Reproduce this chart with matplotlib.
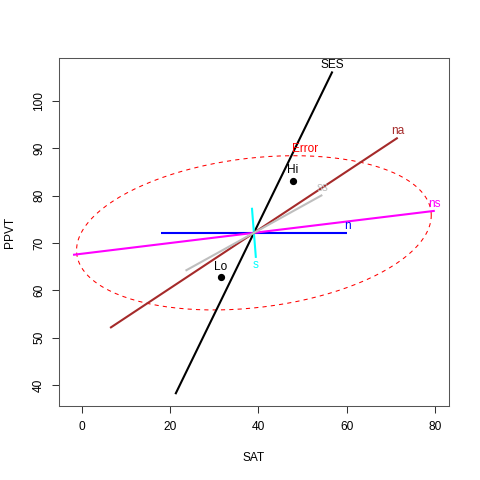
import numpy as np
import matplotlib
matplotlib.use("Agg")
import matplotlib.pyplot as plt

plt.rcParams['font.family'] = ['Liberation Sans', 'DejaVu Sans']

# grand mean (centre of all ellipses)
center = [38.98, 72.15]

# hypothesis terms (rank 1 -> lines), half-length vectors from centre
terms = ['SES', 'n', 's', 'ns', 'na', 'ss']
term_dx = [17.8, 21.1, 0.45, 41.0, 32.6, 15.5]
term_dy = [34.1, 0.0, -5.3, 4.65, 20.1, 8.0]
term_colors = ['black', 'blue', 'cyan', 'magenta', '#A52A2A', '#BEBEBE']

# error ellipse covariance (SAT, PPVT)
err_cov = [[1616.0, 148.7], [148.7, 265.7]]
err_label_pos = [50.5, 89.9]

# group means
groups = ['Hi', 'Lo']
group_sat = [47.75, 31.43]
group_ppvt = [83.16, 62.75]


def make_plot():
    fig = plt.figure(figsize=(4.8, 4.8), dpi=100)
    ax = fig.add_axes([59 / 480, 74 / 480, 390 / 480, 348 / 480])

    # error ellipse
    L = np.linalg.cholesky(np.array(err_cov))
    t = np.linspace(0, 2 * np.pi, 200)
    pts = L @ np.vstack([np.cos(t), np.sin(t)])
    ax.plot(center[0] + pts[0], center[1] + pts[1], color='red',
            lw=0.75, linestyle=(0, (4, 4)))
    ax.text(err_label_pos[0], err_label_pos[1], 'Error', color='red',
            fontsize=8.6, ha='center', va='center')

    # hypothesis lines
    for name, dx, dy, col in zip(terms, term_dx, term_dy, term_colors):
        ax.plot([center[0] - dx, center[0] + dx], [center[1] - dy, center[1] + dy],
                color=col, lw=1.5, solid_capstyle='butt')
        off = 4.8 if dy >= 0 else -5.0
        ax.annotate(name, (center[0] + dx, center[1] + dy), xytext=(0, off),
                    textcoords='offset points', color=col, fontsize=8.6,
                    ha='center', va='center')

    # group means
    ax.plot(group_sat, group_ppvt, 'o', color='black', ms=4.2)
    for g, x, y in zip(groups, group_sat, group_ppvt):
        ax.annotate(g, (x, y), xytext=(0, 7.5), textcoords='offset points',
                    fontsize=8.6, ha='center', va='center')

    ax.set_xlim(-5.2, 83.2)
    ax.set_ylim(35.55, 109.1)
    ax.set_xticks([0, 20, 40, 60, 80])
    ax.set_yticks([40, 50, 60, 70, 80, 90, 100])
    ax.tick_params(direction='out', length=5, width=0.75, labelsize=8.6,
                   colors='#333333', labelcolor='black')
    ax.tick_params(axis='x', pad=6)
    ax.tick_params(axis='y', pad=5)
    for lbl in ax.get_yticklabels():
        lbl.set_rotation(90)
        lbl.set_va('center')
    for s in ax.spines.values():
        s.set_linewidth(0.75)
        s.set_color('#555555')

    ax.set_xlabel('SAT', fontsize=8.6)
    ax.set_ylabel('PPVT', fontsize=8.6)
    ax.xaxis.set_label_coords(0.5, (406 - 458) / 348)
    ax.xaxis.label.set_va('center')
    ax.yaxis.set_label_coords((10 - 59) / 390, 0.5)
    ax.yaxis.label.set_va('center')

    fig.savefig('out.png', dpi=100)


if __name__ == "__main__":
    make_plot()
